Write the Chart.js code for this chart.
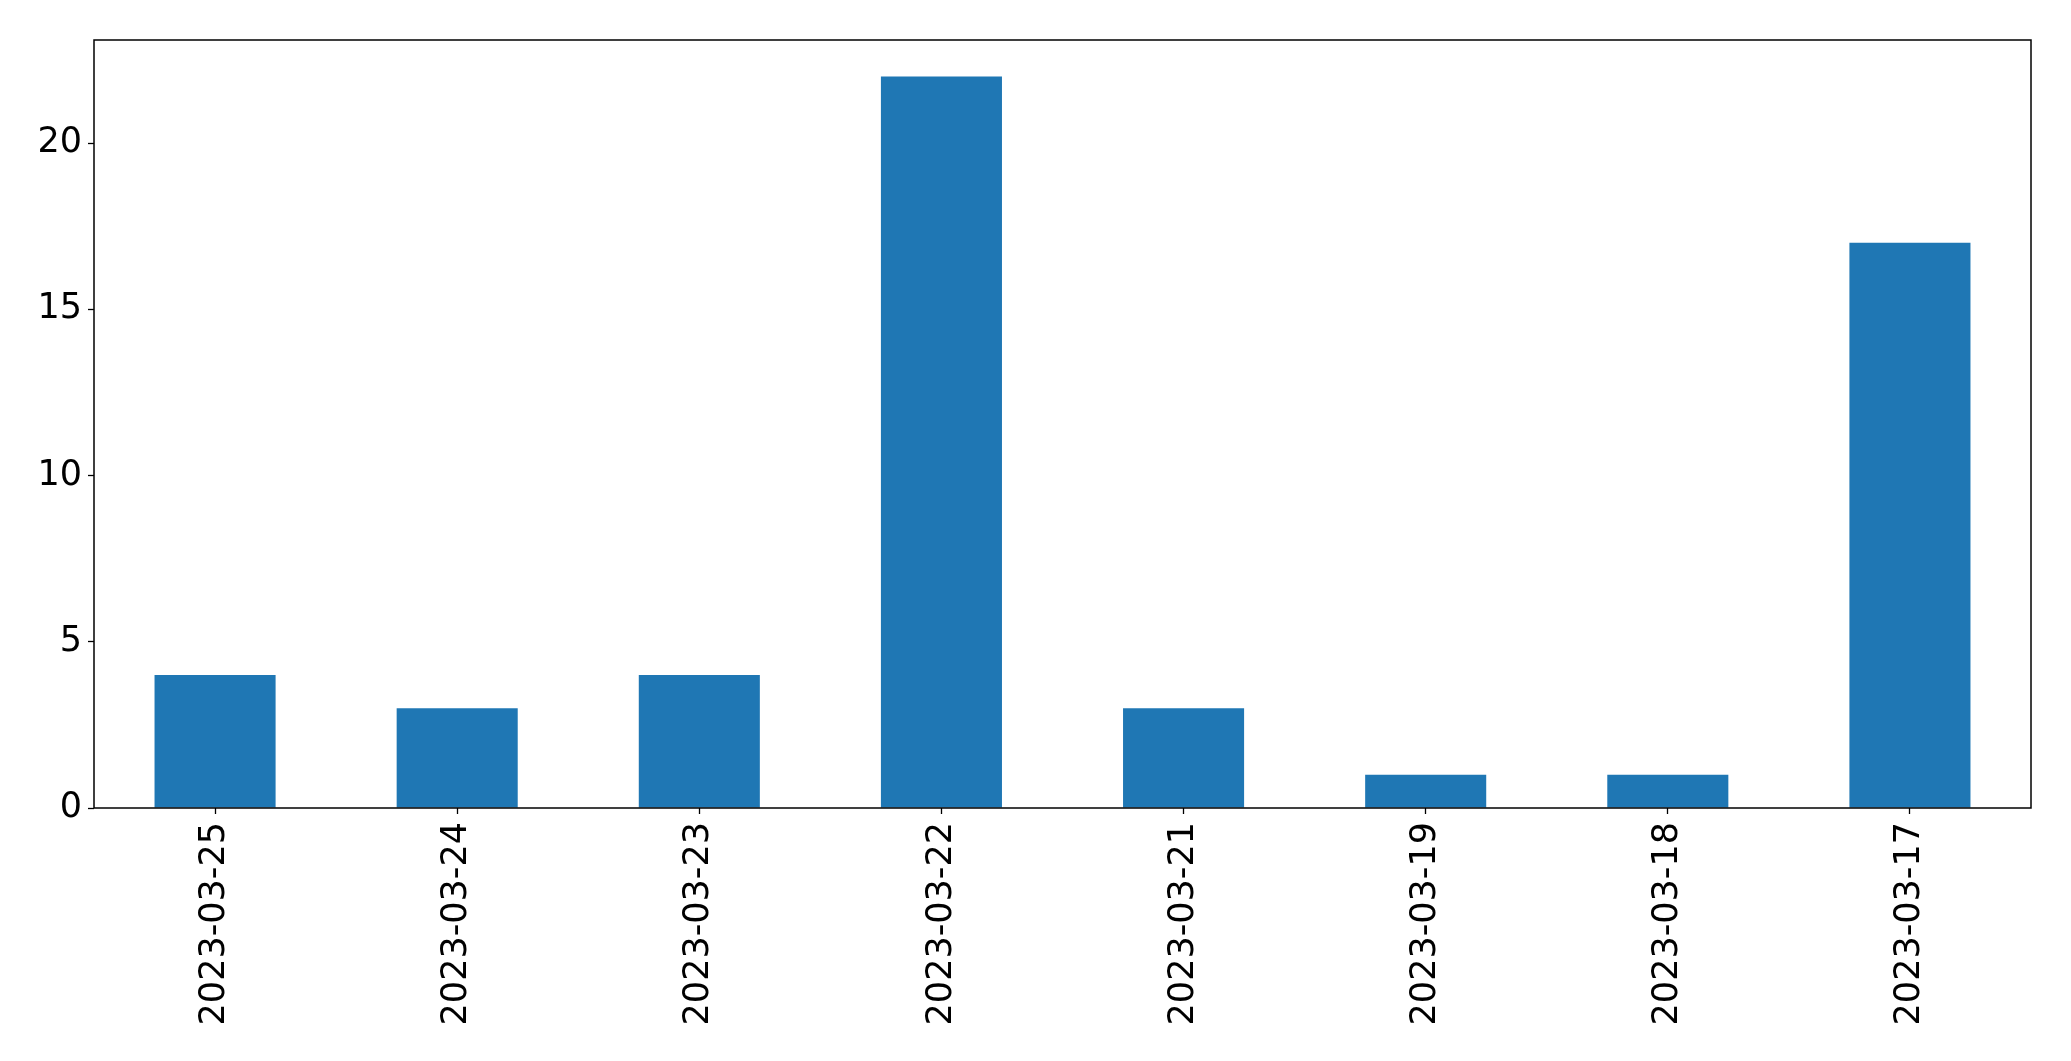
<!DOCTYPE html>
<html>
<head>
<meta charset="utf-8">
<script src="https://cdn.jsdelivr.net/npm/chart.js@4"></script>
<style>
  body { margin: 0; background: #fff; }
  #myChart { display: block; }
</style>
</head>
<body>
<canvas id="myChart" width="2071" height="1061"></canvas>
<script>
var categories = ['2023-03-25','2023-03-24','2023-03-23','2023-03-22','2023-03-21','2023-03-19','2023-03-18','2023-03-17'];
var counts = [4, 3, 4, 22, 3, 1, 1, 17];
var yTicks = [0, 5, 10, 15, 20];
var yMax = 23.1;

// box round the plot area, like matplotlib spines
var frame = {
  id: 'frame',
  afterDraw: function(chart){
    var a = chart.chartArea, c = chart.ctx;
    c.save();
    c.strokeStyle = '#000';
    c.lineWidth = 1.5;
    c.strokeRect(a.left, a.top, a.right - a.left, a.bottom - a.top);
    c.restore();
  }
};

var font = { family: 'DejaVu Sans', size: 35 };

var barChart = new Chart(document.getElementById('myChart'), {
  type: 'bar',
  data: {
    labels: categories,
    datasets: [{
      data: counts,
      backgroundColor: '#1f77b4',
      borderWidth: 0,
      categoryPercentage: 1,
      barPercentage: 0.5
    }]
  },
  options: {
    responsive: false,
    animation: false,
    layout: { padding: { top: 40, right: 40, left: 0, bottom: 0 } },
    plugins: { legend: { display: false }, tooltip: { enabled: false } },
    scales: {
      x: {
        grid: { display: true, offset: false, drawOnChartArea: false, tickLength: 6, tickColor: '#000', tickWidth: 1.3 },
        border: { display: false },
        ticks: { color: '#000', font: font, maxRotation: 90, minRotation: 90, padding: 8, autoSkip: false },
        afterFit: function(s){ s.height = 253; }
      },
      y: {
        min: 0,
        max: yMax,
        grid: { display: true, drawOnChartArea: false, tickLength: 6, tickColor: '#000', tickWidth: 1.3 },
        border: { display: false },
        afterBuildTicks: function(s){ s.ticks = yTicks.map(function(v){ return { value: v }; }); },
        ticks: { color: '#000', font: font, padding: 6 },
        afterFit: function(s){ s.width = 94; }
      }
    }
  },
  plugins: [frame]
});
</script>
</body>
</html>
